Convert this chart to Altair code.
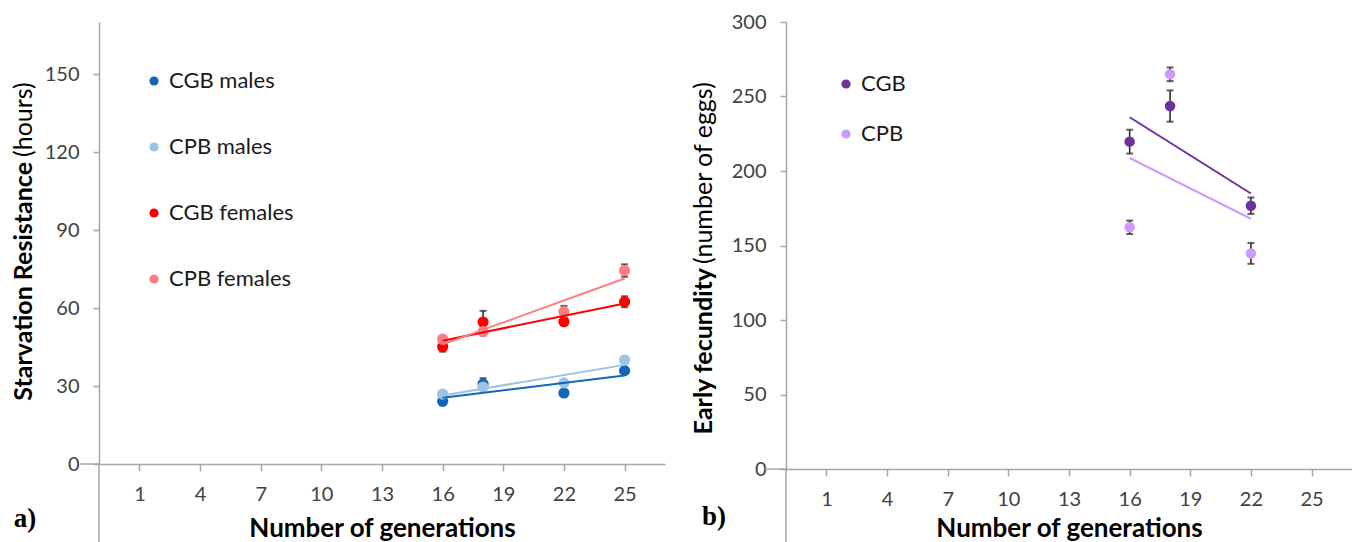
import altair as alt
import pandas as pd

# ---------------- data ----------------
gen_a = [16, 18, 22, 25]
series_a = ["CGB males", "CPB males", "CGB females", "CPB females"]
cgb_males = [24.1, 30.8, 27.3, 35.9]
cgb_males_err = [0.8, 2.2, 0.8, 1.0]
cpb_males = [26.9, 29.6, 31.2, 40.0]
cpb_males_err = [0.8, 1.0, 0.8, 1.0]
cgb_females = [45.1, 54.6, 54.7, 62.4]
cgb_females_err = [1.9, 4.3, 1.0, 2.1]
cpb_females = [48.0, 50.9, 58.6, 74.4]
cpb_females_err = [1.0, 1.5, 2.2, 2.4]
colors_a = ["#1166bb", "#9dc3e6", "#ff0000", "#ff7c80"]

gen_b = [16, 18, 22]
series_b = ["CGB", "CPB"]
cgb_fec = [219.7, 243.6, 176.7]
cgb_fec_err = [8.0, 10.5, 5.5]
cpb_fec = [162.2, 264.9, 144.7]
cpb_fec_err = [4.5, 4.6, 7.0]
colors_b = ["#7030a0", "#cc99ff"]

x_ticks = [1, 4, 7, 10, 13, 16, 19, 22, 25]
ticks_a = [0, 30, 60, 90, 120, 150]
ticks_b = [0, 50, 100, 150, 200, 250, 300]


def long_df(gens, names, vals, errs):
    rows = []
    for name, v, e in zip(names, vals, errs):
        for g, vv, ee in zip(gens, v, e):
            rows.append({"gen": g, "value": vv, "err": ee, "series": name})
    return pd.DataFrame(rows)


df_a = long_df(gen_a, series_a,
               [cgb_males, cpb_males, cgb_females, cpb_females],
               [cgb_males_err, cpb_males_err, cgb_females_err, cpb_females_err])
df_b = long_df(gen_b, series_b, [cgb_fec, cpb_fec], [cgb_fec_err, cpb_fec_err])

AXIS_GRAY = "#a6a6a6"
W = 566


def one_row():
    return pd.DataFrame({"k": [0]})


def text_layer(text, x, y, size, weight, angle, align, font="Lato"):
    return alt.Chart(pd.DataFrame({"t": [text]})).mark_text(
        font=font, fontSize=size, fontWeight=weight, angle=angle,
        align=align, baseline="middle", color="#000000"
    ).encode(x=alt.value(x), y=alt.value(y), text="t:N")


def panel(df, series, colors, ydomain, yticks, H, leg_x, leg_y, row_pad,
          t_bold, t_reg, t_x, bold_end, reg_start, letter, let_x, let_y,
          ext_left, pt_size, title_pad):
    xs = alt.Scale(domain=[-1, 27], nice=False, zero=False)
    ys = alt.Scale(domain=ydomain, nice=False, zero=False)
    x_axis = alt.Axis(values=x_ticks, grid=False, domainColor=AXIS_GRAY,
                      domainWidth=1.5, tickColor=AXIS_GRAY, tickWidth=1.5,
                      tickSize=7, labelFont="Lato", labelFontSize=20,
                      labelColor="#404040", labelPadding=13, labelFlush=False,
                      titleFont="Lato", titleFontSize=26, titleFontWeight="bold",
                      titleColor="#000000", titlePadding=title_pad)
    y_axis = alt.Axis(values=yticks, grid=False, domainColor=AXIS_GRAY,
                      domainWidth=1.5, tickColor=AXIS_GRAY, tickWidth=1.5,
                      tickSize=6, labelFont="Lato", labelFontSize=20,
                      labelColor="#404040", labelPadding=14, title=None)
    xq = alt.X("gen:Q", scale=xs, axis=x_axis, title="Number of generations")
    yq = alt.Y("value:Q", scale=ys, axis=y_axis)
    cscale = alt.Scale(domain=series, range=colors)
    legend = alt.Legend(orient="none", legendX=leg_x, legendY=leg_y, title=None,
                        labelFont="Lato", labelFontSize=22, labelColor="#1a1a1a",
                        rowPadding=row_pad, symbolType="circle", symbolSize=85,
                        symbolStrokeWidth=0, labelOffset=4)

    base = alt.Chart(df)
    err = base.transform_calculate(lo="datum.value - datum.err",
                                   hi="datum.value + datum.err")
    bars = err.mark_rule(color="#222222", strokeWidth=1.5).encode(
        x=alt.X("gen:Q", scale=xs), y=alt.Y("lo:Q", scale=ys), y2="hi:Q")
    cap_lo = err.mark_tick(orient="horizontal", color="#222222", thickness=2,
                           size=7).encode(x=alt.X("gen:Q", scale=xs),
                                          y=alt.Y("lo:Q", scale=ys))
    cap_hi = err.mark_tick(orient="horizontal", color="#222222", thickness=2,
                           size=7).encode(x=alt.X("gen:Q", scale=xs),
                                          y=alt.Y("hi:Q", scale=ys))
    pts = base.mark_circle(size=pt_size, opacity=1).encode(
        x=xq, y=yq, color=alt.Color("series:N", scale=cscale, legend=legend))
    lines = base.transform_regression("gen", "value", groupby=["series"]).mark_line(
        strokeWidth=2).encode(
        x=alt.X("gen:Q", scale=xs), y=alt.Y("value:Q", scale=ys),
        color=alt.Color("series:N", scale=cscale, legend=None))

    y_ext = alt.Chart(one_row()).mark_rule(color=AXIS_GRAY, strokeWidth=1.5).encode(
        x=alt.value(0), y=alt.value(H), y2=alt.value(H + 90))
    x_ext = alt.Chart(one_row()).mark_rule(color=AXIS_GRAY, strokeWidth=1.5).encode(
        x=alt.value(ext_left), x2=alt.value(0), y=alt.value(H))

    t1 = text_layer(t_bold, t_x, bold_end, 25, "bold", 270, "right")
    t2 = text_layer(t_reg, t_x, reg_start, 25, "normal", 270, "left")
    t3 = text_layer(letter, let_x, let_y, 27, "bold", 0, "center",
                    font="Liberation Serif")

    return alt.layer(y_ext, x_ext, bars, cap_lo, cap_hi, pts, lines, t1, t2, t3).properties(
        width=W, height=H)


left = panel(df_a, series_a, colors_a, [0, 170], ticks_a, 442,
             44, 48, 44, "Starvation Resistance", "(hours)", -75, 140, 135,
             "a)", -74, 497, -19, 125, 11)
right = panel(df_b, series_b, colors_b, [0, 300], ticks_b, 447,
              49, 51, 28, "Early fecundity", "(number of eggs)", -82, 246, 242,
              "b)", -72, 495, -21, 110, 6)

chart = alt.hconcat(left, right, spacing=121).properties(
    bounds="flush",
    autosize=alt.AutoSizeParams(type="none"),
    padding={"left": 99, "top": 22, "right": 1352 - 99, "bottom": 542 - 22},
).resolve_scale(color="independent").configure_view(strokeWidth=0)

chart.save("out.html", embed_options={"renderer": "svg", "actions": False})
